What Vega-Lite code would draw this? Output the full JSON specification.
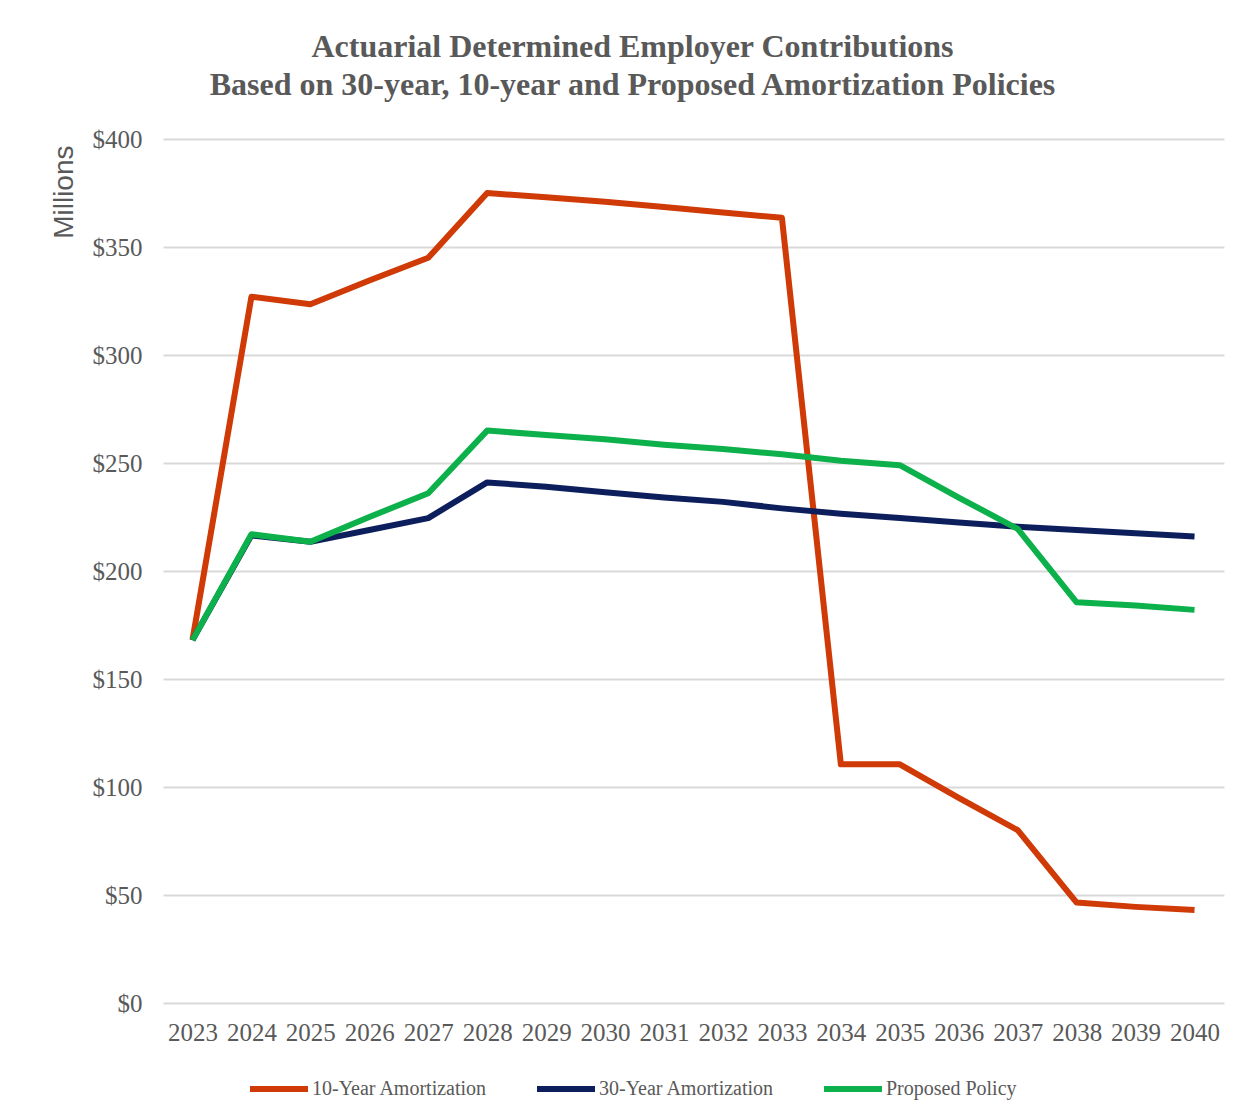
{
  "$schema": "https://vega.github.io/schema/vega-lite/v6.json",
  "width": 1061,
  "height": 864,
  "autosize": {"type": "none"},
  "padding": {"left": 163, "top": 139, "right": 15, "bottom": 116},
  "background": "white",
  "title": {
    "text": ["Actuarial Determined Employer Contributions", "Based on 30-year, 10-year and Proposed Amortization Policies"],
    "font": "Liberation Serif",
    "fontSize": 32,
    "fontWeight": "bold",
    "color": "#595959",
    "anchor": "middle",
    "frame": "group",
    "dx": -61,
    "lineHeight": 38,
    "offset": 25
  },
  "data": {
    "values": [
      {"year": "2023", "series": "10-Year Amortization", "value": 168},
      {"year": "2024", "series": "10-Year Amortization", "value": 327},
      {"year": "2025", "series": "10-Year Amortization", "value": 323.5},
      {"year": "2026", "series": "10-Year Amortization", "value": 334.5},
      {"year": "2027", "series": "10-Year Amortization", "value": 345},
      {"year": "2028", "series": "10-Year Amortization", "value": 375},
      {"year": "2029", "series": "10-Year Amortization", "value": 373},
      {"year": "2030", "series": "10-Year Amortization", "value": 371},
      {"year": "2031", "series": "10-Year Amortization", "value": 368.5},
      {"year": "2032", "series": "10-Year Amortization", "value": 366},
      {"year": "2033", "series": "10-Year Amortization", "value": 363.5},
      {"year": "2034", "series": "10-Year Amortization", "value": 110.5},
      {"year": "2035", "series": "10-Year Amortization", "value": 110.5},
      {"year": "2036", "series": "10-Year Amortization", "value": 95},
      {"year": "2037", "series": "10-Year Amortization", "value": 80},
      {"year": "2038", "series": "10-Year Amortization", "value": 46.5},
      {"year": "2039", "series": "10-Year Amortization", "value": 44.5},
      {"year": "2040", "series": "10-Year Amortization", "value": 43},
      {"year": "2023", "series": "30-Year Amortization", "value": 168},
      {"year": "2024", "series": "30-Year Amortization", "value": 216.5},
      {"year": "2025", "series": "30-Year Amortization", "value": 213.5},
      {"year": "2026", "series": "30-Year Amortization", "value": 219},
      {"year": "2027", "series": "30-Year Amortization", "value": 224.5},
      {"year": "2028", "series": "30-Year Amortization", "value": 241},
      {"year": "2029", "series": "30-Year Amortization", "value": 239},
      {"year": "2030", "series": "30-Year Amortization", "value": 236.5},
      {"year": "2031", "series": "30-Year Amortization", "value": 234},
      {"year": "2032", "series": "30-Year Amortization", "value": 232},
      {"year": "2033", "series": "30-Year Amortization", "value": 229},
      {"year": "2034", "series": "30-Year Amortization", "value": 226.5},
      {"year": "2035", "series": "30-Year Amortization", "value": 224.5},
      {"year": "2036", "series": "30-Year Amortization", "value": 222.5},
      {"year": "2037", "series": "30-Year Amortization", "value": 220.5},
      {"year": "2038", "series": "30-Year Amortization", "value": 219},
      {"year": "2039", "series": "30-Year Amortization", "value": 217.5},
      {"year": "2040", "series": "30-Year Amortization", "value": 216},
      {"year": "2023", "series": "Proposed Policy", "value": 168},
      {"year": "2024", "series": "Proposed Policy", "value": 217},
      {"year": "2025", "series": "Proposed Policy", "value": 213.5},
      {"year": "2026", "series": "Proposed Policy", "value": 225},
      {"year": "2027", "series": "Proposed Policy", "value": 236},
      {"year": "2028", "series": "Proposed Policy", "value": 265},
      {"year": "2029", "series": "Proposed Policy", "value": 263},
      {"year": "2030", "series": "Proposed Policy", "value": 261},
      {"year": "2031", "series": "Proposed Policy", "value": 258.5},
      {"year": "2032", "series": "Proposed Policy", "value": 256.5},
      {"year": "2033", "series": "Proposed Policy", "value": 254},
      {"year": "2034", "series": "Proposed Policy", "value": 251},
      {"year": "2035", "series": "Proposed Policy", "value": 249},
      {"year": "2036", "series": "Proposed Policy", "value": 234},
      {"year": "2037", "series": "Proposed Policy", "value": 219.5},
      {"year": "2038", "series": "Proposed Policy", "value": 185.5},
      {"year": "2039", "series": "Proposed Policy", "value": 184},
      {"year": "2040", "series": "Proposed Policy", "value": 182}
    ]
  },
  "mark": {"type": "line", "strokeWidth": 6, "strokeJoin": "round"},
  "encoding": {
    "x": {
      "field": "year",
      "type": "ordinal",
      "scale": {"type": "point", "padding": 0.5},
      "axis": {
        "title": null,
        "labelAngle": 0,
        "labelFont": "Liberation Serif",
        "labelFontSize": 25,
        "labelColor": "#595959",
        "labelPadding": 17,
        "ticks": false,
        "domain": false,
        "grid": false
      }
    },
    "y": {
      "field": "value",
      "type": "quantitative",
      "scale": {"domain": [0, 400], "nice": false},
      "axis": {
        "values": [0, 50, 100, 150, 200, 250, 300, 350, 400],
        "labelExpr": "'$' + datum.value",
        "labelFont": "Liberation Serif",
        "labelFontSize": 25,
        "labelColor": "#595959",
        "labelPadding": 21,
        "ticks": false,
        "domain": false,
        "grid": true,
        "gridColor": "#d9d9d9",
        "gridWidth": 2,
        "title": "Millions",
        "titleFont": "Liberation Sans",
        "titleFontSize": 28,
        "titleFontWeight": "normal",
        "titleColor": "#595959",
        "titleAngle": -90,
        "titleAlign": "right",
        "titleBaseline": "middle",
        "titleX": -99,
        "titleY": 6
      }
    },
    "color": {
      "field": "series",
      "type": "nominal",
      "scale": {
        "domain": ["10-Year Amortization", "30-Year Amortization", "Proposed Policy"],
        "range": ["#cf3a06", "#0c1f5c", "#0db14b"]
      },
      "legend": {
        "title": null,
        "orient": "none",
        "direction": "horizontal",
        "legendX": 84,
        "legendY": 918,
        "symbolType": "stroke",
        "symbolSize": 3364,
        "symbolStrokeWidth": 6,
        "labelFont": "Liberation Serif",
        "labelFontSize": 20,
        "labelColor": "#595959",
        "labelOffset": 1,
        "labelLimit": 400,
        "columnPadding": 37
      }
    }
  },
  "config": {"view": {"stroke": null}}
}
